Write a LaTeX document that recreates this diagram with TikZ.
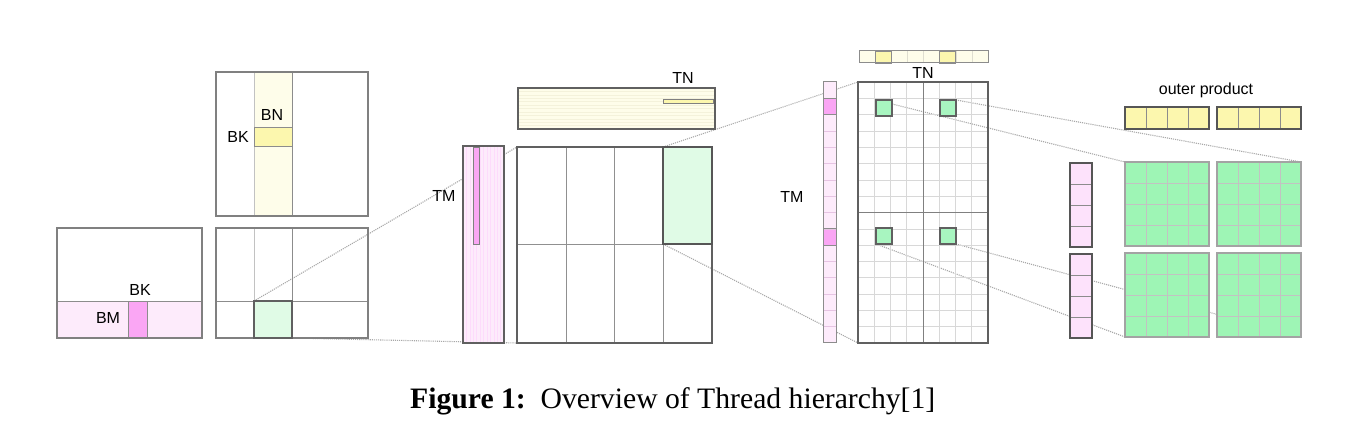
\documentclass[tikz,border=0pt]{standalone}
\usepackage{fontspec}
\setmainfont{Liberation Serif}
\newfontfamily\lblfont{Liberation Sans}
\usepackage{graphicx}
\definecolor{bord}{HTML}{606060}
\definecolor{bordl}{HTML}{8C8C8C}
\definecolor{gridl}{HTML}{D8D8D8}
\definecolor{pinkL}{HTML}{FDEBFB}
\definecolor{pinkS}{HTML}{FAA6F4}
\definecolor{yelL}{HTML}{FEFDEA}
\definecolor{yelS}{HTML}{FCF7AE}
\definecolor{grnL}{HTML}{E0FBE6}
\definecolor{grnS}{HTML}{A8F5C0}
\definecolor{grnB}{HTML}{9EF5B5}
\definecolor{dotc}{HTML}{A8A8A8}
\tikzset{
  lbl/.style={font=\lblfont\fontsize{16}{18}\selectfont, inner sep=0pt, text=black},
  mat/.style={draw=bord, line width=1.3pt},
  thin/.style={draw=bordl, line width=0.8pt},
  gl/.style={draw=gridl, line width=0.6pt},
  conn/.style={draw=dotc, densely dotted, line width=1.1pt},
}
\begin{document}
\begin{tikzpicture}[x=1pt,y=-1pt]
\useasboundingbox (0,0) rectangle (1346,435);

% ---------- connector end points ----------
\coordinate (s1a) at (254,301);
\coordinate (s1b) at (292,338);
\coordinate (c2tl) at (517,147);
\coordinate (c2bl) at (517,343);
\coordinate (s2a) at (663,147);
\coordinate (s2b) at (663,244);
\coordinate (c3tl) at (858,82);
\coordinate (c3bl) at (858,343);
\coordinate (q1) at (876,100);
\coordinate (q2) at (956,100);
\coordinate (q3) at (876,244);
\coordinate (q4) at (956,244);
\coordinate (bTL) at (1125,162);
\coordinate (bTR) at (1301,162);
\coordinate (bBL) at (1125,337);
\coordinate (bBR) at (1301,337);

\draw[conn] (s1a) -- (c2tl);
\draw[conn] (s1b) -- (c2bl);
\draw[conn] (s2a) -- (c3tl);
\draw[conn] (s2b) -- (c3bl);
\draw[conn] (q1) -- (bTL);
\draw[conn] (q2) -- (bTR);
\draw[conn] (q3) -- (bBL);
\draw[conn] (q4) -- (bBR);

% ================= Section 1 =================
% A matrix
\fill[pinkL] (57,301) rectangle (202,338);
\draw[thin] (57,301) -- (202,301);
\fill[pinkS] (128,301) rectangle (147,338);
\draw[thin] (128,301) rectangle (147,338);
\draw[mat, draw=bord!80] (57,228) rectangle (202,338);
\node[lbl] (bk1) at (140,290) {BK};
\node[lbl] (bm1) at (108,318) {BM};
% B matrix
\fill[yelL] (254,72) rectangle (292,216);
\draw[gl, draw=gridl!90!black] (254,72) -- (254,216);
\draw[thin] (292,72) -- (292,216);
\fill[yelS] (254,127) rectangle (292,146);
\draw[thin] (254,127) rectangle (292,146);
\draw[mat, draw=bord!80] (216,72) rectangle (368,216);
\node[lbl] (bn1) at (272,115) {BN};
\node[lbl] (bk2) at (238,137) {BK};
% C matrix
\draw[gl, draw=gridl!90!black] (254,228) -- (254,301);
\draw[thin] (292,228) -- (292,301);
\draw[thin] (216,301) -- (368,301);
\fill[grnL] (254,301) rectangle (292,338);
\draw[mat, draw=bord!80] (216,228) rectangle (368,338);
\draw[mat] (254,301) rectangle (292,338);

% ================= Section 2 =================
% TN bar
\fill[yelL] (518,88) rectangle (715,129);
\foreach \k in {1,...,11} \draw[draw=yelS!80!gray!40, line width=0.5pt] (518,88+\k*3.42) -- (715,88+\k*3.42);
\fill[yelS] (663,99) rectangle (713,103);
\draw[draw=bord!80, line width=0.8pt] (663,99) rectangle (713,103);
\draw[mat] (518,88) rectangle (715,129);
\node[lbl] (tn2) at (683,78) {TN};
% TM column
\fill[pinkL] (463,146) rectangle (504,343);
\foreach \k in {1,...,11} \draw[draw=pinkS!40, line width=0.5pt] (463+\k*3.42,146) -- (463+\k*3.42,343);
\fill[pinkS] (473,147) rectangle (479,244);
\draw[draw=bord!80, line width=0.8pt] (473,147) rectangle (479,244);
\draw[mat] (463,146) rectangle (504,343);
\node[lbl] (tm2) at (444,196) {TM};
% C block
\foreach \x in {566,614,663} \draw[thin, draw=bord!70] (\x,147) -- (\x,343);
\draw[thin, draw=bord!70] (517,244) -- (712,244);
\fill[grnL] (663,147) rectangle (712,244);
\draw[mat] (517,147) rectangle (712,343);
\draw[mat, draw=bord!90!black] (663,147) rectangle (712,244);

% ================= Section 3 =================
% top yellow bar
\fill[yelL] (859,51) rectangle (988,63);
\fill[yelS] (875.1,51) rectangle (891.25,63);
\fill[yelS] (939.6,51) rectangle (955.75,63);
\foreach \k in {1,...,7} \draw[draw=gridl!80!yelS, line width=0.5pt] (859+\k*16.125,51) -- (859+\k*16.125,63);
\draw[thin] (875.1,51) rectangle (891.25,63);
\draw[thin] (939.6,51) rectangle (955.75,63);
\draw[thin, line width=1pt] (859,51) rectangle (988,63);
\node[lbl] (tn3) at (923,73) {TN};
% pink column
\fill[pinkL] (823,82) rectangle (836,343);
\fill[pinkS] (823,82+16.3125) rectangle (836,82+2*16.3125);
\fill[pinkS] (823,82+9*16.3125) rectangle (836,82+10*16.3125);
\foreach \k in {1,...,15} \draw[draw=pinkS!40!gridl, line width=0.5pt] (823,82+\k*16.3125) -- (836,82+\k*16.3125);
\draw[thin] (823,82+16.3125) rectangle (836,82+2*16.3125);
\draw[thin] (823,82+9*16.3125) rectangle (836,82+10*16.3125);
\draw[thin, line width=1pt] (823,82) rectangle (836,343);
\node[lbl] (tm3) at (792,197) {TM};
% big matrix grid
\foreach \k in {1,...,7} \draw[gl] (858+\k*16.25,82) -- (858+\k*16.25,343);
\foreach \k in {1,...,15} \draw[gl] (858,82+\k*16.3125) -- (988,82+\k*16.3125);
\draw[thin, draw=bord!80] (923,82) -- (923,343);
\draw[thin, draw=bord!80] (858,212.5) -- (988,212.5);
\draw[mat] (858,82) rectangle (988,343);
% green thread squares
\foreach \x/\y in {876/100, 940/100, 876/228, 940/228}
  \draw[fill=grnS, draw=bord, line width=1.1pt] (\x,\y) rectangle ++(16,16);

% ================= Section 4 =================
\node[lbl] (op) at (1206,90) {outer product};
% yellow bars
\foreach \x in {1125,1217} {
  \fill[yelS] (\x,107) rectangle ++(84,22);
  \foreach \k in {1,2,3} \draw[draw=bordl, line width=0.8pt] (\x+\k*21,107) -- (\x+\k*21,129);
  \draw[draw=bord!90!black, line width=1.3pt] (\x,107) rectangle ++(84,22);
}
% pink bars
\foreach \y in {163,254} {
  \fill[pinkL!60!pinkS!60] (1070,\y) rectangle ++(22,84);
  \foreach \k in {1,2,3} \draw[draw=bordl, line width=0.8pt] (1070,\y+\k*21) -- (1092,\y+\k*21);
  \draw[draw=bord!90!black, line width=1.3pt] (1070,\y) rectangle ++(22,84);
}
% green blocks
\foreach \x/\y in {1125/162, 1217/162, 1125/253, 1217/253} {
  \fill[grnB] (\x,\y) rectangle ++(84,84);
  \foreach \k in {1,2,3} {
    \draw[draw=gridl!90!black, line width=0.8pt] (\x+\k*21,\y) -- (\x+\k*21,\y+84);
    \draw[draw=gridl!90!black, line width=0.8pt] (\x,\y+\k*21) -- (\x+84,\y+\k*21);
  }
  \draw[draw=bordl!80, line width=1.2pt] (\x,\y) rectangle ++(84,84);
}

% ================= Caption =================
\node[anchor=base west, inner sep=0pt] (cap) at (410,408)
  {\resizebox{525pt}{!}{\textbf{Figure 1:}\ \ Overview of Thread hierarchy[1]}};
\end{tikzpicture}
\end{document}
